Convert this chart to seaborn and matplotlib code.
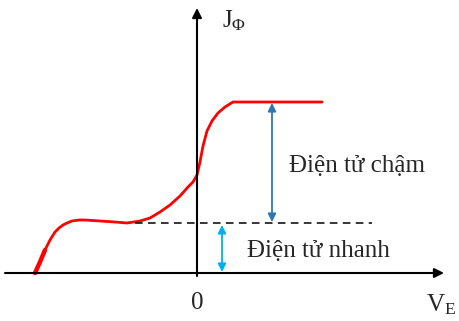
import pandas as pd
import seaborn as sns
import matplotlib.pyplot as plt

# photocurrent curve J(V), arbitrary units (origin at the axes crossing)
voltage = [-162, -157, -152, -147, -142, -138, -134, -130, -125, -118, -112,
           -97, -82, -70, -57, -47, -37, -27, -17, -9, -4, 0, 3, 6, 10, 15,
           21, 28, 36, 125]
current = [0, 11, 23, 33, 41, 45, 48, 50, 52, 53, 53,
           52, 51, 50, 52, 55, 61, 68, 77, 86, 91, 98, 111, 127, 142, 152,
           160, 166, 171, 171]

j_fast = 50      # level of fast electrons (dashed line)
j_sat = 171      # saturation current
label_slow = "Điện tử chậm"
label_fast = "Điện tử nhanh"

df = pd.DataFrame({"V": voltage, "J": current})

sns.set_theme(style="white")
plt.rcParams["font.family"] = ["Liberation Serif", "DejaVu Serif"]
plt.rcParams["mathtext.fontset"] = "custom"
plt.rcParams["mathtext.rm"] = "Liberation Serif"
plt.rcParams["mathtext.it"] = "Liberation Serif:italic"

fig = plt.figure(figsize=(4.59, 3.21), dpi=100)
ax = fig.add_axes([0, 0, 1, 1])
ax.set_xlim(-197, 262)
ax.set_ylim(-48, 273)
ax.axis("off")

# axes with arrows
ax.annotate("", xy=(247, 0), xytext=(-192, 0),
            arrowprops=dict(arrowstyle="-|>", color="black", lw=1.5,
                            mutation_scale=14, shrinkA=0, shrinkB=0))
ax.annotate("", xy=(0, 265), xytext=(0, -3),
            arrowprops=dict(arrowstyle="-|>", color="black", lw=1.5,
                            mutation_scale=14, shrinkA=0, shrinkB=0))

# red curve
sns.lineplot(data=df, x="V", y="J", sort=False, color="#FF0000",
             lw=2.0, ax=ax, solid_joinstyle="round", solid_capstyle="round")
sns.lineplot(x=voltage[:3], y=current[:3], sort=False, color="#FF0000",
             lw=3.2, ax=ax)

# dashed level
ax.plot([-62, 175], [j_fast, j_fast], color="black", lw=1.1,
        dashes=(5, 3.5))

# double arrows
ax.annotate("", xy=(75, j_sat - 1), xytext=(75, j_fast + 1),
            arrowprops=dict(arrowstyle="<|-|>", color="#2E75B6", lw=1.3,
                            mutation_scale=12, shrinkA=0, shrinkB=0))
ax.annotate("", xy=(25, j_fast - 2), xytext=(25, 1),
            arrowprops=dict(arrowstyle="<|-|>", color="#00B0F0", lw=1.3,
                            mutation_scale=12, shrinkA=0, shrinkB=0))

# labels
ax.text(92, 107, label_slow, fontsize=18, va="center", ha="left")
ax.text(50, 22, label_fast, fontsize=18, va="center", ha="left")
ax.text(25, 252, r"$\mathrm{J}_{\Phi}$", fontsize=18, va="center", ha="left")
ax.text(0, -30, "0", fontsize=18, va="center", ha="center")
ax.text(229, -32, r"$\mathrm{V}_{\mathrm{E}}$", fontsize=18, va="center",
        ha="left")

plt.savefig("out.png", dpi=100)
